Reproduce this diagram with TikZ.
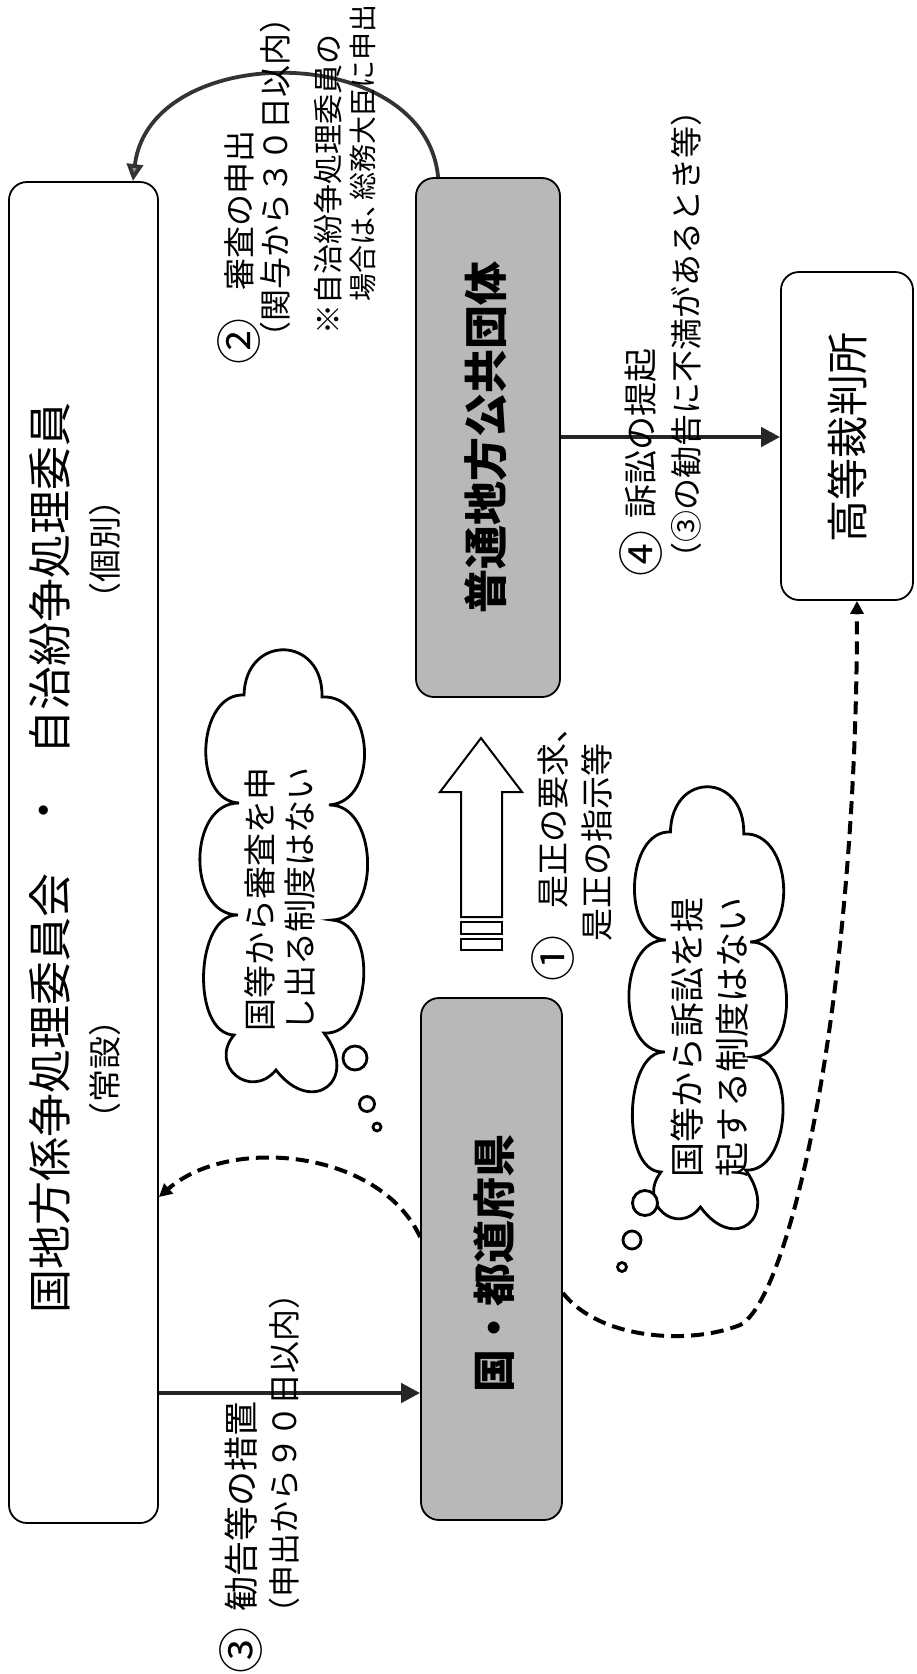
\documentclass[tikz,border=0pt]{standalone}
\usepackage{fontspec}
\newfontfamily\jp{Noto Sans CJK JP}
\usetikzlibrary{arrows.meta,calc}
\begin{document}
\begin{tikzpicture}[x=1pt,y=-1pt,
  box/.style={draw=black, line width=1.8pt, rounded corners=18pt, fill=white, inner sep=0pt},
  gbox/.style={box, fill=black!28},
  lbl/.style={rotate=90, inner sep=0pt, font=\jp\fontsize{#1}{#1}\selectfont},
  lblb/.style={rotate=90, inner sep=0pt, font=\jp\bfseries\fontsize{#1}{#1}\selectfont},
  sarr/.style={line width=4.5pt, draw=black!85, -{Triangle[length=19pt,width=19pt]}},
  arcarr/.style={line width=3.8pt, draw=black!80, -{Triangle[length=17pt,width=16pt,fill=black!45]}},
  darr/.style={line width=4pt, dash pattern=on 13pt off 7pt, -{Triangle[length=13pt,width=13pt]}},
  cloudline/.style={line width=2.8pt, draw=black, fill=white},
  hollow/.style={line width=2pt, draw=black, fill=white},
  cpuff/.style={to path={.. controls ($(\tikztostart)!#1!90:(\tikztotarget)$) and ($(\tikztotarget)!#1!-90:(\tikztostart)$) .. (\tikztotarget)}}
]
\path[use as bounding box, fill=white] (0,0) rectangle (917,1674);

% boxes
\node[box, minimum width=149pt, minimum height=1341pt] (cmt) at (83.5,852.5) {};
\node[gbox, minimum width=144pt, minimum height=519pt] (futsu) at (488,437.5) {};
\node[box, minimum width=132pt, minimum height=328pt] (koto) at (847,436) {};
\node[gbox, minimum width=141pt, minimum height=522pt] (kok) at (491.5,1259) {};

% clouds
\begin{scope}[shift={(284,875)}]
\draw[cloudline] (-40,-180) to[cpuff=0.79] (38,-178) to[cpuff=0.48] (45,-70) to[cpuff=0.43] (48,45) to[cpuff=0.42] (40,158) to[cpuff=0.98] (-8,195) to[cpuff=0.73] (-50,160) to[cpuff=0.36] (-46,40) to[cpuff=0.46] (-45,-72) to[cpuff=0.44] (-40,-180) -- cycle;
\end{scope}
\begin{scope}[shift={(708,1012)}, xscale=0.94]
\draw[cloudline] (-40,-180) to[cpuff=0.79] (38,-178) to[cpuff=0.48] (45,-70) to[cpuff=0.43] (48,45) to[cpuff=0.42] (40,158) to[cpuff=0.98] (-8,195) to[cpuff=0.73] (-50,160) to[cpuff=0.36] (-46,40) to[cpuff=0.46] (-45,-72) to[cpuff=0.44] (-40,-180) -- cycle;
\end{scope}
\draw[cloudline] (355,1058) circle[radius=12pt];
\draw[cloudline] (367,1104) circle[radius=7.5pt];
\draw[cloudline] (377,1127) circle[radius=4pt];
\draw[cloudline] (645,1203) circle[radius=12.5pt];
\draw[cloudline] (632,1240) circle[radius=9pt];
\draw[cloudline] (622,1267) circle[radius=4.5pt];

% hollow arrow (1)
\draw[hollow] (481,738) -- (522,792) -- (502,792) -- (502,917) -- (461,917) -- (461,792) -- (440,792) -- cycle;
\draw[hollow] (461,922) rectangle (502,934);
\draw[hollow] (461,939) rectangle (502,950);

% connectors
\coordinate (y3) at (0,1393);
\draw[sarr] (cmt.east |- y3) -- (kok.west |- y3);
\coordinate (y4) at (0,437);
\draw[sarr] (futsu.east |- y4) -- (koto.west |- y4);
\draw[arcarr] ($(futsu.north west)+(23,0)$) .. controls (425,40) and (150,40) .. ($(cmt.north east)+(-26,0)$);
\coordinate (yd1) at (0,1237);
\coordinate (yd2) at (0,1197);
\draw[darr] (kok.west |- yd1) .. controls (380,1150) and (230,1135) .. (cmt.east |- yd2);
\coordinate (yd3) at (0,1293);
\coordinate (xd3) at (857,0);
\coordinate (dmid) at (740,1325);
\draw[darr] (kok.east |- yd3) .. controls (600,1340) and (690,1345) .. (dmid) .. controls (790,1300) and (857,1000) .. (koto.south -| xd3);

% box labels
\node[lbl=44] (c1) at (50,1093) {国地方係争処理委員会};
\node[lbl=44] (c2) at (50,810) {・};
\node[lbl=44] (c3) at (50,578) {自治紛争処理委員};
\node[lbl=33] (c4) at (105,1069) {（常設）};
\node[lbl=33] (c5) at (105,549) {（個別）};
\node[lblb=44] (f1) at (486,437) {普通地方公共団体};
\node[lbl=42] (k1) at (847,437) {高等裁判所};
\node[lblb=43] (g1) at (494,1263) {国・都道府県};

% annotations
\node[lbl=46] (n2) at (239,341) {②};
\node[lbl=32, anchor=west] (a2a) at (239,291) {審査の申出};
\node[lbl=32, anchor=west] (a2b) at (275,354) {（関与から３０日以内）};
\node[lbl=30, anchor=west] (a2c) at (328,335) {※自治紛争処理委員の};
\node[lbl=28, anchor=west] (a2d) at (363,302) {場合は、\kern-0.4em 総務大臣に申出};
\node[lbl=46] (n4) at (641,553) {④};
\node[lbl=34, anchor=west] (a4a) at (641,519) {訴訟の提起};
\node[lbl=32, anchor=west] (a4b) at (686,575) {（③の勧告に不満があるとき等）};
\node[lbl=46] (n3) at (241,1650) {③};
\node[lbl=35, anchor=west] (a3a) at (241,1612) {勧告等の措置};
\node[lbl=32, anchor=west] (a3b) at (284,1630) {（申出から９０日以内）};
\node[lbl=46] (n1) at (553,958) {①};
\node[lbl=33, anchor=west] (a1a) at (553,909) {是正の要求、};
\node[lbl=33, anchor=west] (a1b) at (597,942) {是正の指示等};

% cloud texts
\node[lbl=33, anchor=west] (q1a) at (260,1032) {国等から審査を申};
\node[lbl=33, anchor=west] (q1b) at (300,1032) {し出る制度はない};
\node[lbl=35, anchor=west] (q2a) at (687,1178) {国等から訴訟を提};
\node[lbl=35, anchor=west] (q2b) at (732,1178) {起する制度はない};
\end{tikzpicture}
\end{document}
